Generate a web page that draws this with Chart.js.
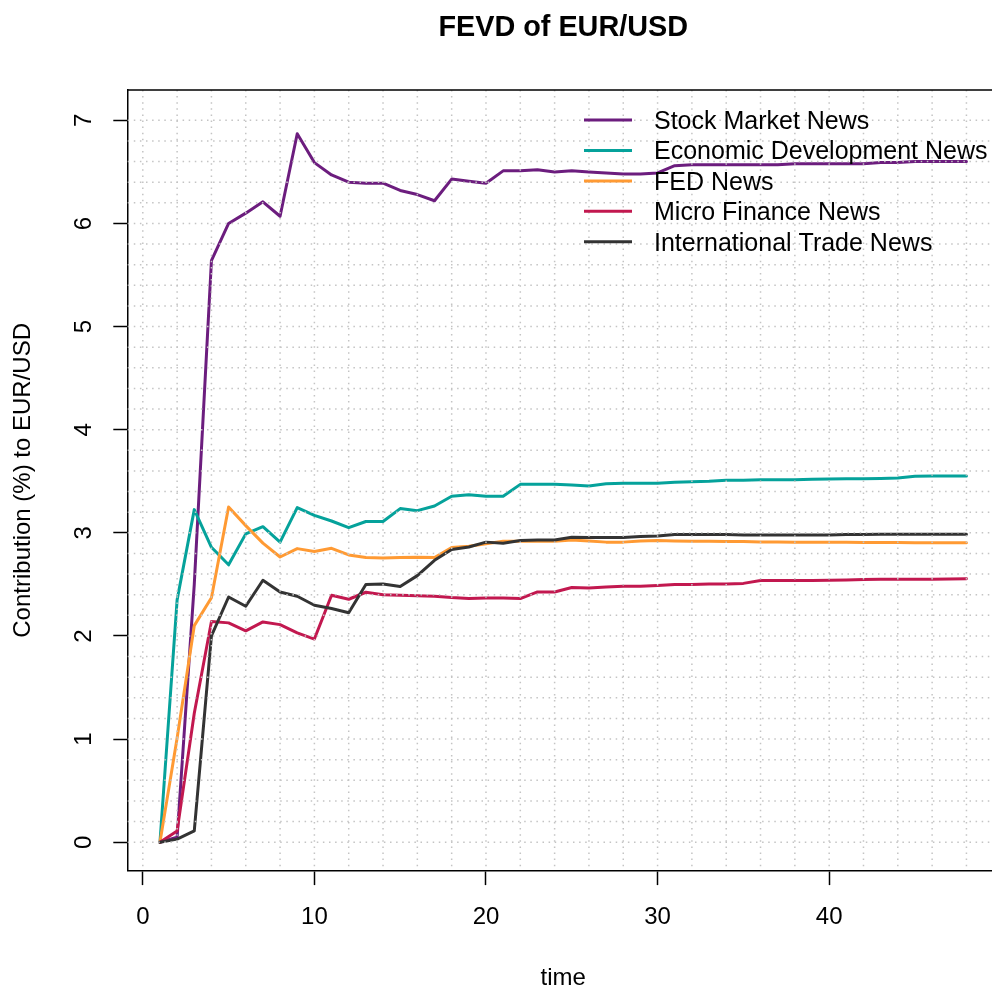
<!DOCTYPE html>
<html lang="en">
<head>
<meta charset="UTF-8">
<title>FEVD of EUR/USD</title>
<script src="https://cdn.jsdelivr.net/npm/chart.js"></script>
<style>
  html, body { margin: 0; padding: 0; background: #fff; overflow: hidden; }
  #wrap { width: 1010px; height: 987px; }
</style>
</head>
<body>
<div id="wrap"><canvas id="fevd" width="1010" height="987"></canvas></div>
<script>
  // horizon steps
  const steps = [1, 2, 3, 4, 5, 6, 7, 8, 9, 10, 11, 12, 13, 14, 15, 16, 17, 18, 19, 20, 21, 22, 23, 24,
                 25, 26, 27, 28, 29, 30, 31, 32, 33, 34, 35, 36, 37, 38, 39, 40, 41, 42, 43, 44, 45, 46, 47, 48];

  const stockMarket = [0, 0.05, 2.5, 5.64, 6.00, 6.10, 6.21, 6.07, 6.87, 6.59, 6.47, 6.40, 6.39, 6.39, 6.32, 6.28,
                       6.22, 6.43, 6.41, 6.39, 6.51, 6.51, 6.52, 6.50, 6.51, 6.50, 6.49, 6.48, 6.48, 6.49, 6.56, 6.57,
                       6.57, 6.57, 6.57, 6.57, 6.57, 6.58, 6.58, 6.58, 6.58, 6.58, 6.59, 6.59, 6.60, 6.60, 6.60, 6.60];
  const econDev = [0, 2.35, 3.225, 2.86, 2.69, 2.99, 3.06, 2.91, 3.245, 3.17, 3.115, 3.05, 3.11, 3.11, 3.235, 3.215,
                   3.26, 3.355, 3.37, 3.355, 3.355, 3.47, 3.47, 3.47, 3.465, 3.455, 3.475, 3.48, 3.48, 3.48, 3.49, 3.495,
                   3.50, 3.51, 3.51, 3.515, 3.515, 3.515, 3.52, 3.523, 3.525, 3.525, 3.528, 3.532, 3.548, 3.55, 3.55, 3.55];
  const fedNews = [0, 1.01, 2.10, 2.37, 3.25, 3.07, 2.90, 2.766, 2.847, 2.82, 2.85, 2.786, 2.76, 2.755, 2.76, 2.763,
                   2.76, 2.857, 2.87, 2.895, 2.918, 2.918, 2.918, 2.918, 2.93, 2.92, 2.91, 2.91, 2.92, 2.925, 2.92, 2.918,
                   2.918, 2.915, 2.915, 2.912, 2.912, 2.91, 2.91, 2.908, 2.908, 2.907, 2.906, 2.906, 2.905, 2.905, 2.905, 2.905];
  const microFinance = [0, 0.11, 1.25, 2.14, 2.127, 2.05, 2.136, 2.11, 2.03, 1.97, 2.395, 2.356, 2.424, 2.40, 2.395, 2.39,
                        2.385, 2.372, 2.363, 2.369, 2.369, 2.363, 2.427, 2.427, 2.47, 2.465, 2.475, 2.482, 2.482, 2.49, 2.50, 2.50,
                        2.503, 2.505, 2.51, 2.537, 2.537, 2.537, 2.538, 2.54, 2.543, 2.548, 2.55, 2.55, 2.55, 2.55, 2.552, 2.556];
  const intlTrade = [0, 0.03, 0.11, 2.0, 2.378, 2.288, 2.54, 2.427, 2.385, 2.298, 2.266, 2.225, 2.50, 2.505, 2.48, 2.585,
                     2.734, 2.838, 2.863, 2.91, 2.90, 2.925, 2.93, 2.93, 2.957, 2.955, 2.955, 2.955, 2.964, 2.97, 2.985, 2.985,
                     2.985, 2.983, 2.98, 2.978, 2.978, 2.978, 2.978, 2.978, 2.985, 2.985, 2.986, 2.986, 2.986, 2.986, 2.986, 2.986];

  const seriesNames = ['Stock Market News', 'Economic Development News', 'FED News', 'Micro Finance News', 'International Trade News'];
  const seriesValues = [stockMarket, econDev, fedNews, microFinance, intlTrade];
  const seriesColors = ['#6c1d7e', '#05a29b', '#ff9a33', '#c2184f', '#333333'];

  const xTicks = [0, 10, 20, 30, 40];
  const yTicks = [0, 1, 2, 3, 4, 5, 6, 7];

  const FONT = '"Liberation Sans", Arial, Helvetica, sans-serif';

  // dotted light grey grid, R style, drawn over the lines
  const rGrid = {
    id: 'rGrid',
    afterDatasetsDraw(chart) {
      const { ctx, chartArea: a, scales: { x, y } } = chart;
      ctx.save();
      ctx.strokeStyle = '#c4c4c4';
      ctx.lineWidth = 1.5;
      ctx.setLineDash([1.5, 4.6]);
      for (let v = 0; v <= 50; v += 2) {
        const px = x.getPixelForValue(v);
        if (px > a.right) break;
        ctx.beginPath(); ctx.moveTo(px, a.top); ctx.lineTo(px, a.bottom); ctx.stroke();
      }
      for (let k = 0; k <= 35; k++) {
        const py = y.getPixelForValue(k * 0.2);
        ctx.beginPath(); ctx.moveTo(a.left, py); ctx.lineTo(a.right, py); ctx.stroke();
      }
      ctx.restore();
    }
  };

  // close the box (top and right sides)
  const rBox = {
    id: 'rBox',
    afterDraw(chart) {
      const { ctx, chartArea: a } = chart;
      ctx.save();
      ctx.strokeStyle = '#000';
      ctx.lineWidth = 1.5;
      ctx.beginPath();
      ctx.moveTo(a.left, a.top); ctx.lineTo(a.right, a.top); ctx.lineTo(a.right, a.bottom);
      ctx.stroke();
      ctx.restore();
    }
  };

  // legend at top right, no frame
  const rLegend = {
    id: 'rLegend',
    afterDraw(chart) {
      const ctx = chart.ctx;
      ctx.save();
      ctx.font = '25px ' + FONT;
      ctx.textBaseline = 'middle';
      ctx.textAlign = 'left';
      chart.data.datasets.forEach((ds, i) => {
        const yy = 120 + i * 30.45;
        ctx.strokeStyle = ds.borderColor;
        ctx.lineWidth = 3;
        ctx.beginPath(); ctx.moveTo(584, yy); ctx.lineTo(632, yy); ctx.stroke();
        ctx.fillStyle = '#000';
        ctx.fillText(ds.label, 654, yy + 2);
      });
      ctx.restore();
    }
  };

  new Chart(document.getElementById('fevd'), {
    type: 'line',
    data: {
      datasets: seriesNames.map((name, i) => ({
        label: name,
        data: steps.map((t, j) => ({ x: t, y: seriesValues[i][j] })),
        borderColor: seriesColors[i],
        borderWidth: 3,
        pointRadius: 0,
        tension: 0,
        fill: false,
        borderJoinStyle: 'round',
        borderCapStyle: 'round',
        order: seriesNames.length - i
      }))
    },
    options: {
      responsive: false,
      animation: false,
      events: [],
      layout: { padding: { top: 0, right: 11.3, bottom: 0, left: 0 } },
      plugins: {
        legend: { display: false },
        tooltip: { enabled: false },
        title: {
          display: true,
          text: 'FEVD of EUR/USD',
          fullSize: false,
          color: '#000',
          font: { family: FONT, size: 28.8, weight: 'bold', lineHeight: 1.2 },
          padding: { top: 10.4, bottom: 45.04 }
        }
      },
      scales: {
        x: {
          type: 'linear',
          min: -0.88,
          max: 49.88,
          afterBuildTicks: s => { s.ticks = xTicks.map(v => ({ value: v })); },
          afterFit: s => { s.height = 116.3; },
          grid: { drawOnChartArea: false, drawTicks: true, tickLength: 14.4, tickColor: '#000', tickWidth: 1.5, color: '#000' },
          border: { display: true, color: '#000', width: 1.5 },
          ticks: { color: '#000', font: { family: FONT, size: 24 }, padding: 18.2, maxRotation: 0, autoSkip: false },
          title: { display: true, text: 'time', color: '#000', font: { family: FONT, size: 24, lineHeight: 0.7 }, padding: 0 }
        },
        y: {
          type: 'linear',
          min: -0.276,
          max: 7.294,
          afterBuildTicks: s => { s.ticks = yTicks.map(v => ({ value: v })); },
          afterFit: s => { s.width = 127.7; },
          grid: { drawOnChartArea: false, drawTicks: true, tickLength: 14.4, tickColor: '#000', tickWidth: 1.5, color: '#000' },
          border: { display: true, color: '#000', width: 1.5 },
          ticks: { color: '#000', font: { family: FONT, size: 24 }, padding: 21.9, minRotation: 90, maxRotation: 90, crossAlign: 'center', autoSkip: false },
          title: { display: true, text: 'Contribution (%) to EUR/USD', color: '#000', font: { family: FONT, size: 24 }, padding: { top: 9, bottom: 0 } }
        }
      }
    },
    plugins: [rGrid, rBox, rLegend]
  });
</script>
</body>
</html>
